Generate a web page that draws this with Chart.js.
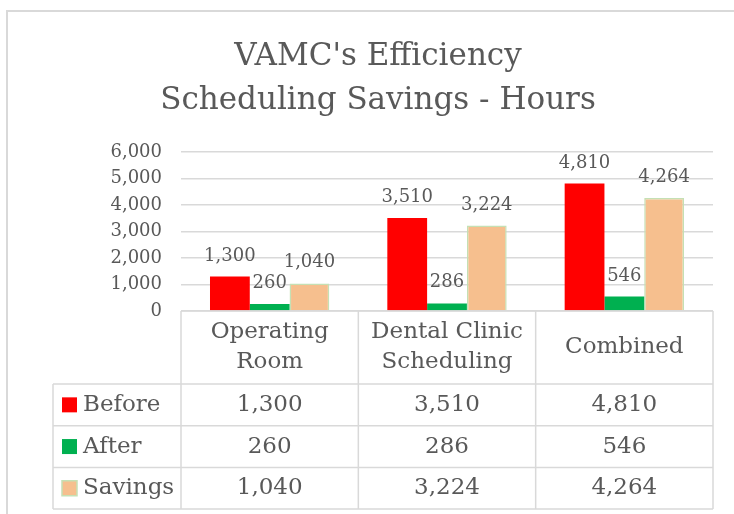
<!DOCTYPE html>
<html>
<head>
<meta charset="utf-8">
<script src="https://cdn.jsdelivr.net/npm/chart.js@4"></script>
<style>
    body { margin: 0; background: #fff; overflow: hidden; }
    #chart { display: block; }
</style>
</head>
<body>
<canvas id="chart" width="734" height="514"></canvas>
<script>
// Datos de la gráfica
const categories = [['Operating', 'Room'], ['Dental Clinic', 'Scheduling'], 'Combined'];
const seriesNames = ['Before', 'After', 'Savings'];
const beforeHours = [1300, 3510, 4810];
const afterHours = [260, 286, 546];
const savingsHours = [1040, 3224, 4264];
const yMax = 6000;
const yStep = 1000;

const textColor = '#595959';
const lineColor = '#d9d9d9';
const fontFamily = "'DejaVu Serif', serif";

const fmt = v => v.toLocaleString('en-US');

// Marco exterior del área del gráfico
const frame = {
    id: 'frame',
    beforeDraw(chart) {
        const ctx = chart.ctx;
        ctx.save();
        ctx.fillStyle = '#fff';
        ctx.fillRect(0, 0, chart.width, chart.height);
        ctx.strokeStyle = lineColor;
        ctx.lineWidth = 2;
        ctx.beginPath();
        ctx.moveTo(7, chart.height);
        ctx.lineTo(7, 11);
        ctx.lineTo(chart.width, 11);
        ctx.stroke();
        ctx.restore();
    }
};

// Etiquetas encima de cada barra
const barLabels = {
    id: 'barLabels',
    afterDatasetsDraw(chart) {
        const ctx = chart.ctx;
        ctx.save();
        ctx.fillStyle = textColor;
        ctx.font = '18px ' + fontFamily;
        ctx.textAlign = 'center';
        ctx.textBaseline = 'alphabetic';
        chart.data.datasets.forEach((ds, i) => {
            chart.getDatasetMeta(i).data.forEach((bar, j) => {
                ctx.fillText(fmt(ds.data[j]), bar.x, bar.y - 16);
            });
        });
        ctx.restore();
    }
};

// Tabla de datos debajo del eje
const dataTable = {
    id: 'dataTable',
    afterDraw(chart) {
        const ctx = chart.ctx;
        const area = chart.chartArea;
        const n = chart.data.labels.length;
        const colW = (area.right - area.left) / n;
        const top = area.bottom;
        const headBottom = top + 73;
        const rowH = 41.7;
        const tableBottom = headBottom + rowH * chart.data.datasets.length;
        const legendLeft = 53;

        ctx.save();
        ctx.strokeStyle = lineColor;
        ctx.lineWidth = 1.5;
        ctx.beginPath();
        // horizontales
        ctx.moveTo(area.left, top);
        ctx.lineTo(area.right, top);
        for (let r = 0; r <= chart.data.datasets.length; r++) {
            const y = headBottom + r * rowH;
            ctx.moveTo(legendLeft, y);
            ctx.lineTo(area.right, y);
        }
        // verticales
        ctx.moveTo(legendLeft, headBottom);
        ctx.lineTo(legendLeft, tableBottom);
        for (let c = 0; c <= n; c++) {
            const x = area.left + c * colW;
            ctx.moveTo(x, top);
            ctx.lineTo(x, tableBottom);
        }
        ctx.stroke();

        ctx.fillStyle = textColor;
        ctx.font = '23px ' + fontFamily;
        ctx.textAlign = 'center';
        ctx.textBaseline = 'middle';

        // encabezados
        chart.data.labels.forEach((lab, c) => {
            const lines = Array.isArray(lab) ? lab : [lab];
            const cx = area.left + (c + 0.5) * colW;
            const cy = (top + headBottom) / 2;
            lines.forEach((t, k) => {
                ctx.fillText(t, cx, cy + (k - (lines.length - 1) / 2) * 30);
            });
        });

        // filas
        chart.data.datasets.forEach((ds, r) => {
            const cy = headBottom + (r + 0.5) * rowH;
            ctx.fillStyle = ds.backgroundColor;
            ctx.fillRect(62, cy - 7.5, 15, 15);
            if (ds.borderWidth) {
                ctx.strokeStyle = ds.borderColor;
                ctx.lineWidth = 1.5;
                ctx.strokeRect(62, cy - 7.5, 15, 15);
            }
            ctx.fillStyle = textColor;
            ctx.textAlign = 'left';
            ctx.fillText(ds.label, 83, cy);
            ctx.textAlign = 'center';
            ds.data.forEach((v, c) => {
                ctx.fillText(fmt(v), area.left + (c + 0.5) * colW, cy);
            });
        });
        ctx.restore();
    }
};

Chart.defaults.font.family = fontFamily;
Chart.defaults.color = textColor;

const ctx = document.getElementById('chart').getContext('2d');
const chart = new Chart(ctx, {
    type: 'bar',
    data: {
        labels: categories,
        datasets: [{
            label: seriesNames[0],
            data: beforeHours,
            backgroundColor: '#ff0000',
            borderWidth: 0
        }, {
            label: seriesNames[1],
            data: afterHours,
            backgroundColor: '#00b050',
            borderWidth: 0
        }, {
            label: seriesNames[2],
            data: savingsHours,
            backgroundColor: '#f6bf8e',
            borderColor: '#c5e0b4',
            borderWidth: 1.5
        }]
    },
    options: {
        responsive: false,
        animation: false,
        categoryPercentage: 0.673,
        barPercentage: 1,
        layout: {
            padding: { top: 35, left: 43, right: 21, bottom: 203 }
        },
        plugins: {
            legend: { display: false },
            tooltip: { enabled: false },
            title: {
                display: true,
                text: ["VAMC's Efficiency", 'Scheduling Savings - Hours'],
                color: textColor,
                font: { size: 31, weight: 'normal', lineHeight: 1.42 },
                padding: { top: 0, bottom: 29 }
            }
        },
        scales: {
            x: {
                grid: { display: false },
                border: { display: false },
                ticks: { display: false },
                afterFit(scale) { scale.height = 0; }
            },
            y: {
                min: 0,
                max: yMax,
                grid: { color: lineColor, lineWidth: 1.5, drawTicks: false },
                border: { display: false },
                ticks: {
                    stepSize: yStep,
                    padding: 19,
                    color: textColor,
                    font: { size: 18 },
                    callback: v => fmt(v)
                },
                afterFit(scale) { scale.width = 138; }
            }
        }
    },
    plugins: [frame, barLabels, dataTable]
});
</script>
</body>
</html>
